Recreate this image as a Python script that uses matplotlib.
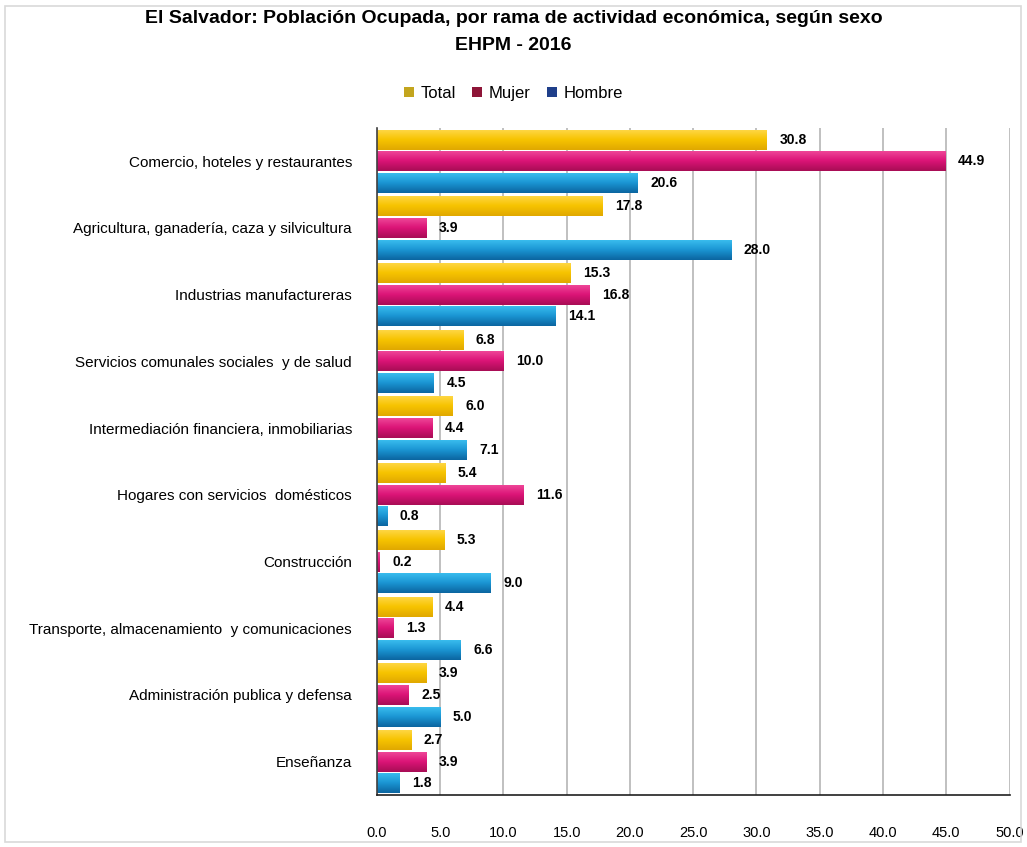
import matplotlib
matplotlib.use("Agg")
import matplotlib.pyplot as plt
import numpy as np
from matplotlib.colors import LinearSegmentedColormap
from matplotlib.patches import Rectangle, Patch

plt.rcParams['font.family'] = ['Liberation Sans', 'DejaVu Sans']

categories = [
    "Comercio, hoteles y restaurantes",
    "Agricultura, ganadería, caza y silvicultura",
    "Industrias manufactureras",
    "Servicios comunales sociales  y de salud",
    "Intermediación financiera, inmobiliarias",
    "Hogares con servicios  domésticos",
    "Construcción",
    "Transporte, almacenamiento  y comunicaciones",
    "Administración publica y defensa",
    "Enseñanza",
]
total = [30.8, 17.8, 15.3, 6.8, 6.0, 5.4, 5.3, 4.4, 3.9, 2.7]
mujer = [44.9, 3.9, 16.8, 10.0, 4.4, 11.6, 0.2, 1.3, 2.5, 3.9]
hombre = [20.6, 28.0, 14.1, 4.5, 7.1, 0.8, 9.0, 6.6, 5.0, 1.8]
series_names = ["Total", "Mujer", "Hombre"]
xticks = [0, 5, 10, 15, 20, 25, 30, 35, 40, 45, 50]

fig = plt.figure(figsize=(10.27, 8.47), dpi=100)
ax = fig.add_axes([0.367, 0.0614, 0.616, 0.7876])

# border around figure
fig.patches.append(Rectangle((0.005, 0.006), 0.989, 0.987, transform=fig.transFigure,
                             fill=False, edgecolor="#d9d9d9", linewidth=1.2))

grads = [
    ["#FFD84A", "#F7C400", "#E0A800"],
    ["#F04B9B", "#DC1477", "#A80D55"],
    ["#3CC0F0", "#1B96D4", "#0B65A0"],
]
legend_colors = ["#C3A51E", "#8E1538", "#1F3F8A"]

n = len(categories)
y = np.arange(n)
step = 0.325
h = 0.30
offsets = [-step, 0, step]
data = [total, mujer, hombre]

for si, (vals, off) in enumerate(zip(data, offsets)):
    cmap = LinearSegmentedColormap.from_list("g%d" % si, grads[si])
    bars = ax.barh(y + off, vals, height=h, color=grads[si][1], zorder=2, linewidth=0)
    for b, v in zip(bars, vals):
        x0, y0 = b.get_x(), b.get_y()
        w, hh = b.get_width(), b.get_height()
        grad = np.linspace(0, 1, 64).reshape(-1, 1)
        im = ax.imshow(grad, cmap=cmap, extent=(x0, x0 + w, y0 + hh, y0),
                       aspect='auto', origin='upper', zorder=2.5, interpolation='bicubic')
        im.set_clip_path(b)
        ax.text(v + 1.0, y0 + hh / 2, f"{v:.1f}", va='center', ha='left',
                fontsize=10, fontweight='bold', color='black', zorder=3)

ax.set_xlim(0, 50)
ax.set_ylim(n - 0.5, -0.5)
ax.set_yticks(y)
ax.set_yticklabels(categories, fontsize=11)
ax.set_xticks(xticks)
ax.set_xticklabels([f"{t:.1f}" for t in xticks], fontsize=10.5)
ax.tick_params(axis='y', length=0, pad=18)
ax.tick_params(axis='x', length=0, pad=22)
ax.grid(axis='x', color="#c0c0c0", linewidth=1.4, zorder=0)
ax.set_axisbelow(True)
for s in ['top', 'right']:
    ax.spines[s].set_visible(False)
ax.spines['left'].set_color("#404040")
ax.spines['left'].set_linewidth(1.2)
ax.spines['bottom'].set_color("#202020")
ax.spines['bottom'].set_linewidth(1.2)

fig.text(0.5, 0.978, "El Salvador: Población Ocupada, por rama de actividad económica, según sexo",
         ha='center', va='center', fontsize=14, fontweight='bold')
fig.text(0.5, 0.946, "EHPM - 2016", ha='center', va='center', fontsize=14, fontweight='bold')

handles = [Patch(facecolor=c, edgecolor='none') for c in legend_colors]
fig.legend(handles, series_names, loc='center', bbox_to_anchor=(0.5, 0.89), ncol=3,
           frameon=False, fontsize=12, handlelength=0.6, handleheight=0.6,
           handletextpad=0.4, columnspacing=1.0)

fig.savefig("out.png", dpi=100)
